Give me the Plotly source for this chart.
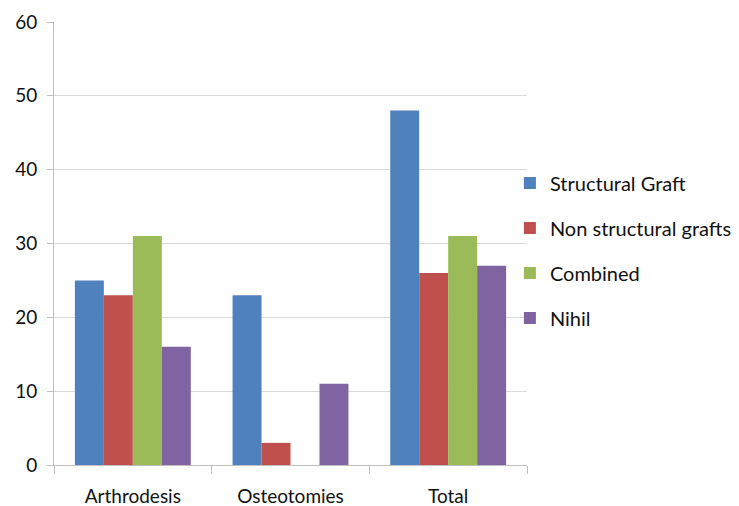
import plotly.graph_objects as go

categories = ["Arthrodesis", "Osteotomies", "Total"]
structural_graft = [25, 23, 48]
non_structural_grafts = [23, 3, 26]
combined = [31, 0, 31]
nihil = [16, 11, 27]

series = [
    ("Structural Graft", structural_graft, "#4F81BD"),
    ("Non structural grafts", non_structural_grafts, "#C0504D"),
    ("Combined", combined, "#9BBB59"),
    ("Nihil", nihil, "#8064A2"),
]

fig = go.Figure()
for i, (name, vals, color) in enumerate(series):
    fig.add_trace(go.Bar(
        x=categories, y=vals, name=name,
        marker=dict(color=color, line=dict(width=0)),
        legendgroup=f"g{i}",
    ))

font_family = "Lato, 'Noto Sans', sans-serif"

fig.update_layout(
    width=739, height=506,
    margin=dict(l=54, r=212, t=22, b=41, autoexpand=False),
    paper_bgcolor="white", plot_bgcolor="white",
    barmode="group", bargap=0.265, bargroupgap=0,
    font=dict(family=font_family, size=19, color="#111111"),
    legend=dict(
        xref="container", yref="container",
        x=0.69, y=0.505, xanchor="left", yanchor="middle",
        traceorder="grouped", tracegroupgap=16,
        font=dict(size=20, color="#111111"),
        bgcolor="rgba(0,0,0,0)",
        itemwidth=30,
    ),
    showlegend=True,
)
fig.update_xaxes(
    showline=True, linecolor="#BFBFBF", linewidth=1,
    ticks="outside", tickson="boundaries", ticklen=8, tickcolor="#BFBFBF",
    ticklabelstandoff=14, automargin=False,
    showgrid=False,
)
fig.update_yaxes(
    range=[0, 60], dtick=10,
    showline=True, linecolor="#BFBFBF", linewidth=1,
    ticks="outside", ticklen=6, tickcolor="#BFBFBF",
    ticklabelstandoff=6, automargin=False,
    showgrid=True, gridcolor="#D9D9D9", gridwidth=1,
    zeroline=False,
)

fig.write_html("out.html")
